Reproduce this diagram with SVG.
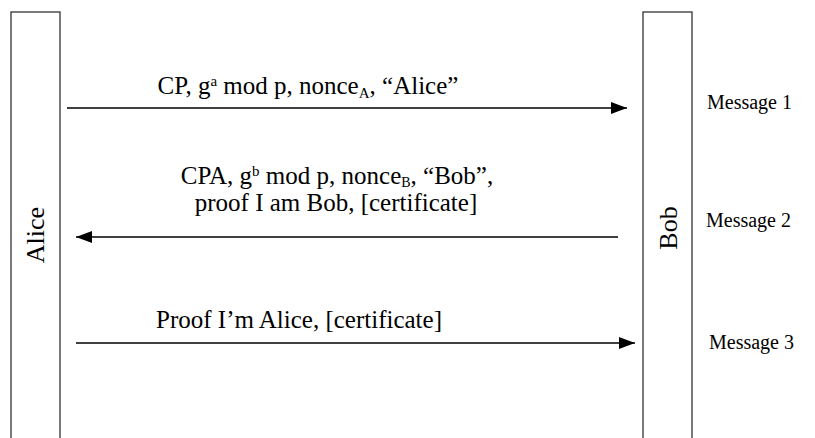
<svg xmlns="http://www.w3.org/2000/svg" width="815" height="438" viewBox="0 0 815 438">
<style>
.box{fill:#fff;stroke:#333;stroke-width:1.3}
.lbl{font-family:"Liberation Serif","Times New Roman",serif;fill:#000}
.big{font-size:26px}
.msg{font-size:25px}
.side{font-size:20px}
.ln{stroke:#000;stroke-width:1.5;fill:none}
</style>
<defs>
<marker id="ahb" viewBox="0 0 16 12" refX="16" refY="6" markerWidth="16" markerHeight="12" markerUnits="userSpaceOnUse" orient="auto">
<path d="M0,0 L16,6 L0,12 Z" fill="#000"/>
</marker>
</defs>
<rect width="815" height="438" fill="#fff"/>
<g id="alice">
<rect class="box" x="11" y="12" width="49" height="440"/>
<text class="lbl big" transform="translate(44,235) rotate(-90)" text-anchor="middle">Alice</text>
</g>
<g id="bob">
<rect class="box" x="643" y="12" width="49" height="440"/>
<text class="lbl big" transform="translate(677,228) rotate(-90)" text-anchor="middle">Bob</text>
</g>
<g id="connectors">
<line class="ln" x1="67" y1="108" x2="627" y2="108" marker-end="url(#ahb)"/>
<line class="ln" x1="618" y1="237" x2="76" y2="237" marker-end="url(#ahb)"/>
<line class="ln" x1="76" y1="343" x2="635" y2="343" marker-end="url(#ahb)"/>
</g>
<g id="labels">
<text class="lbl msg" x="308" y="94" text-anchor="middle">CP, g<tspan font-size="15" dy="-8">a</tspan><tspan dy="8"> mod p, nonce</tspan><tspan font-size="15" dy="4">A</tspan><tspan dy="-4">, “Alice”</tspan></text>
<text class="lbl msg" x="337" y="184" text-anchor="middle">CPA, g<tspan font-size="15" dy="-8">b</tspan><tspan dy="8"> mod p, nonce</tspan><tspan font-size="14" dy="3">B</tspan><tspan dy="-3">, “Bob”,</tspan></text>
<text class="lbl msg" x="336" y="211" text-anchor="middle">proof I am Bob, [certificate]</text>
<text class="lbl msg" x="299" y="328" text-anchor="middle">Proof I’m Alice, [certificate]</text>
<text class="lbl side" x="707" y="109">Message 1</text>
<text class="lbl side" x="706" y="227">Message 2</text>
<text class="lbl side" x="709" y="349">Message 3</text>
</g>
</svg>
